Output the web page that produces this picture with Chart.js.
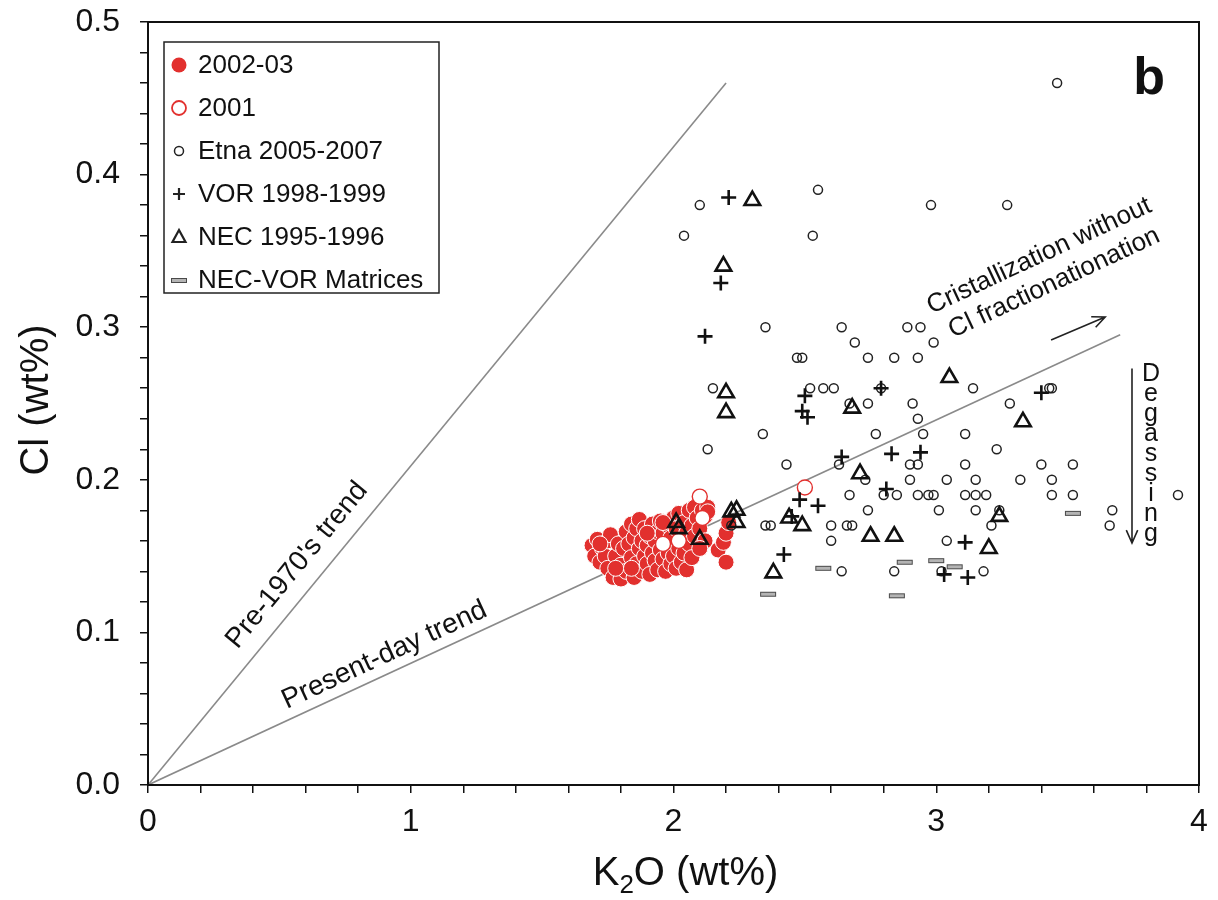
<!DOCTYPE html>
<html>
<head>
<meta charset="utf-8">
<title>Cl vs K2O</title>
<script src="https://cdn.jsdelivr.net/npm/chart.js"></script>
<style>
  html, body { margin: 0; padding: 0; background: #fff; }
  #wrap { width: 1218px; height: 900px; }
</style>
</head>
<body>
<div id="wrap"><canvas id="chart" width="1218" height="900"></canvas></div>
<script>
// Each point is [K2O wt%, Cl wt%]
const series2002 = [
  [1.69, 0.157], [1.70, 0.150], [1.71, 0.161], [1.72, 0.146], [1.73, 0.155], [1.74, 0.150], [1.75, 0.160],
  [1.76, 0.164], [1.75, 0.142], [1.77, 0.136], [1.78, 0.150], [1.79, 0.158], [1.80, 0.144], [1.80, 0.135],
  [1.81, 0.155], [1.82, 0.166], [1.82, 0.140], [1.83, 0.158], [1.84, 0.171], [1.84, 0.149], [1.85, 0.162],
  [1.85, 0.136], [1.86, 0.168], [1.86, 0.145], [1.87, 0.155], [1.87, 0.174], [1.88, 0.140], [1.88, 0.160],
  [1.89, 0.150], [1.89, 0.168], [1.90, 0.145], [1.90, 0.157], [1.91, 0.163], [1.91, 0.138], [1.92, 0.152],
  [1.92, 0.171], [1.93, 0.147], [1.93, 0.160], [1.94, 0.141], [1.94, 0.166], [1.95, 0.154], [1.95, 0.173],
  [1.96, 0.148], [1.96, 0.165], [1.97, 0.140], [1.97, 0.158], [1.98, 0.152], [1.98, 0.170], [1.99, 0.145],
  [1.99, 0.162], [2.00, 0.150], [2.00, 0.175], [2.01, 0.142], [2.01, 0.168], [2.02, 0.155], [2.02, 0.178],
  [2.03, 0.160], [2.03, 0.146], [2.04, 0.172], [2.04, 0.152], [2.05, 0.165], [2.05, 0.141], [2.06, 0.158],
  [2.06, 0.180], [2.07, 0.170], [2.07, 0.149], [2.08, 0.182], [2.08, 0.163], [2.09, 0.175], [2.10, 0.168],
  [2.11, 0.180], [2.12, 0.176], [2.13, 0.182], [2.12, 0.160], [2.13, 0.179], [2.17, 0.154], [2.19, 0.159],
  [2.20, 0.165], [2.21, 0.172], [2.20, 0.146], [1.72, 0.158], [1.78, 0.142], [1.84, 0.142], [1.90, 0.165],
  [1.96, 0.172], [2.10, 0.155]
];
const series2001 = [[2.10, 0.189], [2.50, 0.195], [2.11, 0.175], [2.02, 0.160], [1.96, 0.158]];
const seriesEtna = [
  [2.10, 0.38], [2.55, 0.39], [2.04, 0.36], [2.53, 0.36], [2.35, 0.30], [2.64, 0.30], [2.69, 0.29],
  [2.47, 0.28], [2.49, 0.28], [2.74, 0.28], [2.84, 0.28], [2.15, 0.26], [2.52, 0.26], [2.57, 0.26],
  [2.61, 0.26], [2.79, 0.26], [2.67, 0.25], [2.74, 0.25], [2.34, 0.23], [2.77, 0.23], [2.13, 0.22],
  [2.98, 0.38], [3.27, 0.38], [2.89, 0.30], [2.94, 0.30], [2.99, 0.29], [2.93, 0.28], [3.14, 0.26],
  [3.43, 0.26], [3.44, 0.26], [2.91, 0.25], [3.28, 0.25], [2.93, 0.24], [2.95, 0.23], [3.11, 0.23],
  [3.23, 0.22], [3.46, 0.46], [2.43, 0.21], [2.63, 0.21], [2.73, 0.20], [2.80, 0.19], [2.85, 0.19],
  [2.67, 0.19], [2.74, 0.18], [2.35, 0.17], [2.37, 0.17], [2.60, 0.17], [2.66, 0.17], [2.68, 0.17],
  [2.60, 0.16], [2.64, 0.14], [2.84, 0.14], [2.22, 0.17], [2.90, 0.21], [2.93, 0.21], [3.11, 0.21],
  [3.40, 0.21], [3.52, 0.21], [2.90, 0.20], [3.04, 0.20], [3.15, 0.20], [3.32, 0.20], [3.44, 0.20],
  [2.93, 0.19], [2.97, 0.19], [2.99, 0.19], [3.11, 0.19], [3.15, 0.19], [3.19, 0.19], [3.44, 0.19],
  [3.52, 0.19], [3.92, 0.19], [3.01, 0.18], [3.15, 0.18], [3.24, 0.18], [3.67, 0.18], [3.21, 0.17],
  [3.66, 0.17], [3.04, 0.16], [3.02, 0.14], [3.18, 0.14]
];
const seriesVOR = [
  [2.21, 0.385], [2.18, 0.329], [2.12, 0.294], [2.50, 0.255], [2.79, 0.260], [2.49, 0.245], [2.51, 0.241],
  [3.40, 0.257], [2.64, 0.215], [2.83, 0.217], [2.81, 0.194], [2.48, 0.187], [2.55, 0.183], [2.45, 0.176],
  [2.42, 0.151], [2.94, 0.218], [3.11, 0.159], [3.03, 0.138], [3.12, 0.136]
];
const seriesNEC = [
  [2.30, 0.383], [2.19, 0.340], [2.20, 0.257], [2.20, 0.244], [2.68, 0.247], [3.05, 0.267], [3.33, 0.238],
  [2.71, 0.204], [2.44, 0.175], [2.49, 0.170], [2.75, 0.163], [2.84, 0.163], [2.38, 0.139], [2.01, 0.172],
  [2.02, 0.168], [2.10, 0.161], [2.22, 0.179], [2.24, 0.180], [2.24, 0.172], [3.24, 0.176], [3.20, 0.155]
];
const seriesMatrices = [
  [2.57, 0.142], [2.36, 0.125], [2.85, 0.124], [3.52, 0.178], [2.88, 0.146], [3.00, 0.147], [3.07, 0.143]
];
const trendPre1970 = [[0, 0], [2.2, 0.46]];
const trendPresent = [[0, 0], [3.7, 0.295]];
const legendLabels = ['2002-03', '2001', 'Etna 2005-2007', 'VOR 1998-1999', 'NEC 1995-1996', 'NEC-VOR Matrices'];
const xTickLabels = ['0', '1', '2', '3', '4'];
const yTickLabels = ['0.0', '0.1', '0.2', '0.3', '0.4', '0.5'];

const FONT = '"Liberation Sans", Arial, Helvetica, sans-serif';
const RED = '#e2302e';

const toXY = arr => arr.map(p => ({ x: p[0], y: p[1] }));

// small grey bar used for the matrix analyses
function makeBar() {
  const c = document.createElement('canvas');
  c.width = 18; c.height = 7;
  const g = c.getContext('2d');
  g.fillStyle = '#b4b4b4';
  g.fillRect(1, 1, 16, 5);
  g.strokeStyle = '#4a4a4a';
  g.lineWidth = 1;
  g.strokeRect(1.5, 1.5, 15, 4);
  return c;
}
const barImg = makeBar();

function arrow(ctx, x0, y0, x1, y1, head) {
  const a = Math.atan2(y1 - y0, x1 - x0);
  ctx.beginPath();
  ctx.moveTo(x0, y0);
  ctx.lineTo(x1, y1);
  ctx.moveTo(x1 - head * Math.cos(a - 0.42), y1 - head * Math.sin(a - 0.42));
  ctx.lineTo(x1, y1);
  ctx.lineTo(x1 - head * Math.cos(a + 0.42), y1 - head * Math.sin(a + 0.42));
  ctx.stroke();
}

function rotatedText(ctx, text, px, py, angle, font) {
  ctx.save();
  ctx.translate(px, py);
  ctx.rotate(angle);
  ctx.font = font;
  ctx.textAlign = 'center';
  ctx.textBaseline = 'middle';
  ctx.fillText(text, 0, 0);
  ctx.restore();
}

const overlay = {
  id: 'overlay',
  afterDatasetsDraw(chart) {
    const { ctx, chartArea: a, scales: { x, y } } = chart;
    const px = v => x.getPixelForValue(v);
    const py = v => y.getPixelForValue(v);
    ctx.save();

    // frame
    ctx.strokeStyle = '#111';
    ctx.lineWidth = 2;
    ctx.strokeRect(a.left, a.top, a.right - a.left, a.bottom - a.top);

    ctx.fillStyle = '#111';
    const angPre = Math.atan2(py(trendPre1970[1][1]) - py(0), px(trendPre1970[1][0]) - px(0));
    const angNow = Math.atan2(py(trendPresent[1][1]) - py(0), px(trendPresent[1][0]) - px(0));
    rotatedText(ctx, "Pre-1970's trend", px(0.567), py(0.144), angPre, '28px ' + FONT);
    rotatedText(ctx, 'Present-day trend', px(0.90), py(0.085), angNow, '28px ' + FONT);
    const angCr = -25 * Math.PI / 180;
    rotatedText(ctx, 'Cristallization without', px(3.392), py(0.3467), angCr, '26px ' + FONT);
    rotatedText(ctx, 'Cl fractionationation', px(3.449), py(0.329), angCr, '26px ' + FONT);

    // arrows
    ctx.strokeStyle = '#222';
    ctx.lineWidth = 1.6;
    arrow(ctx, px(3.437), py(0.2916), px(3.643), py(0.3067), 14);
    arrow(ctx, px(3.745), py(0.273), px(3.745), py(0.1586), 14);

    // Degassing, letters stacked
    ctx.font = '25px ' + FONT;
    ctx.textAlign = 'center';
    ctx.textBaseline = 'middle';
    'Degassing'.split('').forEach((ch, i) => {
      ctx.fillText(ch, px(3.817), py(0.269) + i * 20);
    });

    // panel letter
    ctx.font = 'bold 52px ' + FONT;
    ctx.fillText('b', px(3.81), py(0.462));

    // legend
    const lx = a.left + 16, ly = a.top + 20, lw = 275, lh = 251;
    ctx.fillStyle = '#fff';
    ctx.fillRect(lx, ly, lw, lh);
    ctx.strokeStyle = '#222';
    ctx.lineWidth = 1.5;
    ctx.strokeRect(lx, ly, lw, lh);
    ctx.font = '26px ' + FONT;
    ctx.textAlign = 'left';
    legendLabels.forEach((lab, i) => {
      const cy = ly + 23 + i * 43;
      const mx = lx + 15;
      ctx.save();
      switch (i) {
        case 0:
          ctx.fillStyle = RED;
          ctx.beginPath(); ctx.arc(mx, cy, 7.5, 0, Math.PI * 2); ctx.fill();
          break;
        case 1:
          ctx.strokeStyle = RED; ctx.lineWidth = 1.8;
          ctx.beginPath(); ctx.arc(mx, cy, 7, 0, Math.PI * 2); ctx.stroke();
          break;
        case 2:
          ctx.strokeStyle = '#222'; ctx.lineWidth = 1.5;
          ctx.beginPath(); ctx.arc(mx, cy, 4.5, 0, Math.PI * 2); ctx.stroke();
          break;
        case 3:
          ctx.strokeStyle = '#222'; ctx.lineWidth = 2.2;
          ctx.beginPath(); ctx.moveTo(mx - 6, cy); ctx.lineTo(mx + 6, cy);
          ctx.moveTo(mx, cy - 6); ctx.lineTo(mx, cy + 6); ctx.stroke();
          break;
        case 4:
          ctx.strokeStyle = '#222'; ctx.lineWidth = 2.2;
          ctx.beginPath(); ctx.moveTo(mx, cy - 7); ctx.lineTo(mx + 6.5, cy + 5);
          ctx.lineTo(mx - 6.5, cy + 5); ctx.closePath(); ctx.stroke();
          break;
        case 5:
          ctx.drawImage(barImg, mx - 9, cy - 3);
          break;
      }
      ctx.restore();
      ctx.fillStyle = '#111';
      ctx.fillText(lab, lx + 34, cy + 1);
    });

    // axis titles
    ctx.fillStyle = '#111';
    ctx.textBaseline = 'alphabetic';
    ctx.save();
    ctx.translate(48, 400);
    ctx.rotate(-Math.PI / 2);
    ctx.font = '40px ' + FONT;
    ctx.textAlign = 'center';
    ctx.fillText('Cl (wt%)', 0, 0);
    ctx.restore();

    const big = '40px ' + FONT, small = '26px ' + FONT;
    ctx.font = big; const wK = ctx.measureText('K').width;
    const wRest = ctx.measureText('O (wt%)').width;
    ctx.font = small; const w2 = ctx.measureText('2').width;
    const total = wK + w2 + wRest;
    let sx = (a.left + a.right) / 2 - total / 2 + 12;
    const base = 885;
    ctx.textAlign = 'left';
    ctx.font = big; ctx.fillText('K', sx, base); sx += wK;
    ctx.font = small; ctx.fillText('2', sx, base + 8); sx += w2;
    ctx.font = big; ctx.fillText('O (wt%)', sx, base);

    ctx.restore();
  }
};

const axisCommon = {
  type: 'linear',
  offset: false,
  grid: { display: true, drawOnChartArea: false, drawTicks: true, tickLength: 8, color: '#111', tickColor: '#111', lineWidth: 1.5 },
  border: { display: true, color: '#111', width: 2 },
  title: { display: false }
};

new Chart(document.getElementById('chart'), {
  type: 'scatter',
  data: {
    datasets: [
      { type: 'line', label: 'pre', data: toXY(trendPre1970), borderColor: '#8a8a8a', borderWidth: 1.6, pointRadius: 0, fill: false, order: 20 },
      { type: 'line', label: 'present', data: toXY(trendPresent), borderColor: '#8a8a8a', borderWidth: 1.6, pointRadius: 0, fill: false, order: 20 },
      { label: legendLabels[0], data: toXY(series2002), pointStyle: 'circle', pointRadius: 8, backgroundColor: RED, borderColor: '#fff', borderWidth: 1, order: 10 },
      { label: legendLabels[1], data: toXY(series2001), pointStyle: 'circle', pointRadius: 7.5, backgroundColor: '#fff', borderColor: RED, borderWidth: 1.4, order: 9 },
      { label: legendLabels[2], data: toXY(seriesEtna), pointStyle: 'circle', pointRadius: 4.5, backgroundColor: 'rgba(0,0,0,0)', borderColor: '#222', borderWidth: 1.5, order: 5 },
      { label: legendLabels[3], data: toXY(seriesVOR), pointStyle: 'cross', pointRadius: 7.5, borderColor: '#111', borderWidth: 2.6, order: 4 },
      { label: legendLabels[4], data: toXY(seriesNEC), pointStyle: 'triangle', pointRadius: 9, backgroundColor: 'rgba(0,0,0,0)', borderColor: '#111', borderWidth: 2.6, order: 3 },
      { label: legendLabels[5], data: toXY(seriesMatrices), pointStyle: barImg, pointRadius: 8, order: 2 }
    ]
  },
  options: {
    responsive: false,
    animation: false,
    events: [],
    layout: { padding: { top: 22, right: 19, left: 0, bottom: 0 } },
    plugins: { legend: { display: false }, tooltip: { enabled: false } },
    scales: {
      x: Object.assign({}, axisCommon, {
        min: 0, max: 4,
        afterFit: s => { s.height = 115; s.paddingLeft = 0; s.paddingRight = 0; },
        ticks: {
          stepSize: 0.2, autoSkip: false, maxRotation: 0, padding: 10, color: '#111',
          font: { family: FONT, size: 32 },
          callback: v => Math.abs(v - Math.round(v)) < 1e-6 ? xTickLabels[Math.round(v)] : ''
        }
      }),
      y: Object.assign({}, axisCommon, {
        min: 0, max: 0.5,
        afterFit: s => { s.width = 148; s.paddingTop = 0; s.paddingBottom = 0; },
        ticks: {
          stepSize: 0.02, autoSkip: false, padding: 20, color: '#111',
          font: { family: FONT, size: 32 },
          callback: v => Math.abs(v * 10 - Math.round(v * 10)) < 1e-6 ? yTickLabels[Math.round(v * 10)] : ''
        }
      })
    }
  },
  plugins: [overlay]
});
</script>
</body>
</html>
